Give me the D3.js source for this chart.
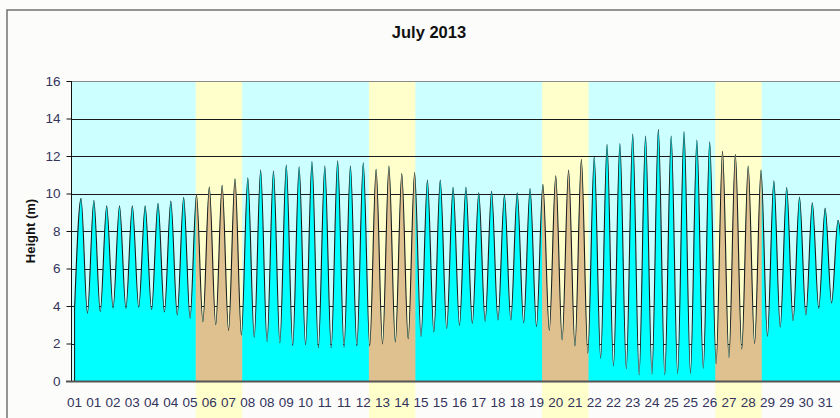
<!DOCTYPE html>
<html>
<head>
<meta charset="utf-8">
<script src="https://cdn.jsdelivr.net/npm/d3@7"></script>
<style>
  html, body { margin: 0; padding: 0; background: #fcfdfb; }
  svg { display: block; }
  text { font-family: "Liberation Sans", Arial, sans-serif; }
</style>
</head>
<body>
<svg id="chart" width="840" height="418"></svg>
<script>
// ---- Data ----
const title = "July 2013";
const yLabel = "Height (m)";
// High waters (m), in order through the month
const highs = [9.74,9.64,9.35,9.35,9.35,9.35,9.48,9.6,9.8,9.95,
  10.35,10.44,10.78,10.84,11.25,11.2,11.52,11.42,11.71,11.47,
  11.75,11.47,11.64,11.29,11.47,11.07,11.12,10.72,10.72,10.33,
  10.33,10.04,10.12,9.93,10.04,10.27,10.49,10.95,11.25,11.82,
  11.96,12.62,12.67,13.17,13.07,13.42,13.07,13.3,12.85,12.76,
  12.26,12.09,11.47,11.25,10.68,10.32,9.81,9.51,9.22,8.57];
// Low waters (m): the one before each high, plus the final one
const lows = [3.9,3.61,3.70,3.9,3.87,3.93,3.8,3.68,3.52,3.34,
  3.16,3.0,2.7,2.45,2.33,2.1,2.04,1.9,1.93,1.77,
  1.77,1.8,1.87,1.87,1.98,2.07,2.25,2.38,2.62,2.8,
  2.97,3.07,3.19,3.25,3.25,3.1,2.9,2.7,2.19,1.87,
  1.48,1.21,0.8,0.65,0.32,0.36,0.33,0.4,0.42,0.68,
  0.92,1.25,1.7,2.0,2.38,2.88,3.21,3.52,3.87,4.16,4.3];
const firstLowDay = 0.105;      // days after 1 July 00:00
const halfTideDays = 0.2593;    // time between a low and the next high
// Weekend days: Saturdays (day of month)
const weekendSaturdays = [6, 13, 20, 27];
const weekendLengthDays = 1.88;
// Category tick labels along the bottom
const xTickLabels = ["01","01","02","03","04","04","05","06","07","08","08","09","10","11","11","12","13","14","15","15",
  "16","17","18","18","19","20","21","22","22","23","24","25","25","26","27","28","29","29","30","31"];
const yTicks = [0,2,4,6,8,10,12,14,16];

// ---- Build series ----
const tide = [];
for (let i = 0; i < lows.length; i++) {
  tide.push({ t: firstLowDay + (2 * i) * halfTideDays, h: lows[i] });
  if (i < highs.length) tide.push({ t: firstLowDay + (2 * i + 1) * halfTideDays, h: highs[i] });
}

// ---- Layout ----
const svg = d3.select("#chart");
const plot = { left: 71, top: 81, bottom: 381, right: 851 };
const x = d3.scaleLinear().domain([0, 31.5]).range([72, 72 + 31.5 * 24.74]);
const y = d3.scaleLinear().domain([0, 16]).range([plot.bottom, plot.top]);
const xl = d3.scalePoint().domain(d3.range(xTickLabels.length)).range([74.5, 74.5 + 19.25 * (xTickLabels.length - 1)]);

// chart border
svg.append("rect").attr("x", 7).attr("y", 10).attr("width", 900).attr("height", 500)
  .attr("fill", "#fcfdfb").attr("stroke", "#7a7a7a").attr("stroke-width", 1.6);

// weekday background
svg.append("rect").attr("x", plot.left).attr("y", plot.top)
  .attr("width", plot.right - plot.left).attr("height", plot.bottom - plot.top)
  .attr("fill", "#ccffff");

// weekend bands (extend below the axis)
svg.append("g").selectAll("rect").data(weekendSaturdays).join("rect")
  .attr("x", d => x(d - 1))
  .attr("width", d => x(d - 1 + weekendLengthDays) - x(d - 1))
  .attr("y", plot.top).attr("height", 418 - plot.top)
  .attr("fill", "#ffffcc");

// gridlines
svg.append("g").selectAll("line").data(yTicks.filter(v => v > 0)).join("line")
  .attr("x1", plot.left).attr("x2", plot.right)
  .attr("y1", d => Math.round(y(d)) + 0.5).attr("y2", d => Math.round(y(d)) + 0.5)
  .attr("stroke", d => d === 16 ? "#8a8a8a" : "#1a1a1a").attr("stroke-width", 1);

// clip for weekend fill
const defs = svg.append("defs");
const cp = defs.append("clipPath").attr("id", "wk");
cp.selectAll("rect").data(weekendSaturdays).join("rect")
  .attr("x", d => x(d - 1))
  .attr("width", d => x(d - 1 + weekendLengthDays) - x(d - 1))
  .attr("y", 0).attr("height", 418);
defs.append("clipPath").attr("id", "plotclip").append("rect")
  .attr("x", plot.left).attr("y", 0).attr("width", 900).attr("height", plot.bottom);

const area = d3.area().x(d => x(d.t)).y0(y(0)).y1(d => y(d.h)).curve(d3.curveMonotoneX);
const line = d3.line().x(d => x(d.t)).y(d => y(d.h)).curve(d3.curveMonotoneX);

const g = svg.append("g").attr("clip-path", "url(#plotclip)");
g.append("path").datum(tide).attr("d", area).attr("fill", "#00ffff");
g.append("g").attr("clip-path", "url(#wk)")
  .append("path").datum(tide).attr("d", area).attr("fill", "#dfc08f");
// left edge of the area
g.append("line").attr("x1", x(tide[0].t)).attr("x2", x(tide[0].t))
  .attr("y1", y(0)).attr("y2", y(tide[0].h)).attr("stroke", "#111").attr("stroke-width", 1);
g.append("path").datum(tide).attr("d", line).attr("fill", "none")
  .attr("stroke", "#1b1b1b").attr("stroke-width", 1.1);

// y axis
const yAxis = svg.append("g").attr("transform", `translate(${plot.left + 0.5},0)`)
  .call(d3.axisLeft(y).tickValues(yTicks).tickSize(5).tickPadding(6).tickFormat(d3.format("d")));
yAxis.select(".domain").attr("stroke", "#111").attr("d", `M0,${plot.top}V${plot.bottom}`);
yAxis.selectAll(".tick line").attr("stroke", "#111");
yAxis.selectAll(".tick text").attr("fill", "#33335c").style("font-size", "13.5px")
  .style("font-family", "'Liberation Sans', Arial, sans-serif");

// x axis line
svg.append("line").attr("x1", plot.left - 5).attr("x2", 840)
  .attr("y1", plot.bottom + 0.5).attr("y2", plot.bottom + 0.5)
  .attr("stroke", "#555").attr("stroke-width", 2);

// x tick labels
svg.append("g").selectAll("text").data(xTickLabels).join("text")
  .attr("x", (d, i) => xl(i)).attr("y", 407)
  .attr("text-anchor", "middle").attr("fill", "#33335c")
  .style("font-size", "13.5px").text(d => d);

// title
svg.append("text").attr("x", 429).attr("y", 38).attr("text-anchor", "middle")
  .style("font-size", "16.5px").style("font-weight", "bold").attr("fill", "#111").text(title);

// y label
svg.append("text").attr("transform", "translate(35,231) rotate(-90)")
  .attr("text-anchor", "middle").style("font-size", "13px").style("font-weight", "bold")
  .attr("fill", "#111").text(yLabel);
</script>
</body>
</html>
